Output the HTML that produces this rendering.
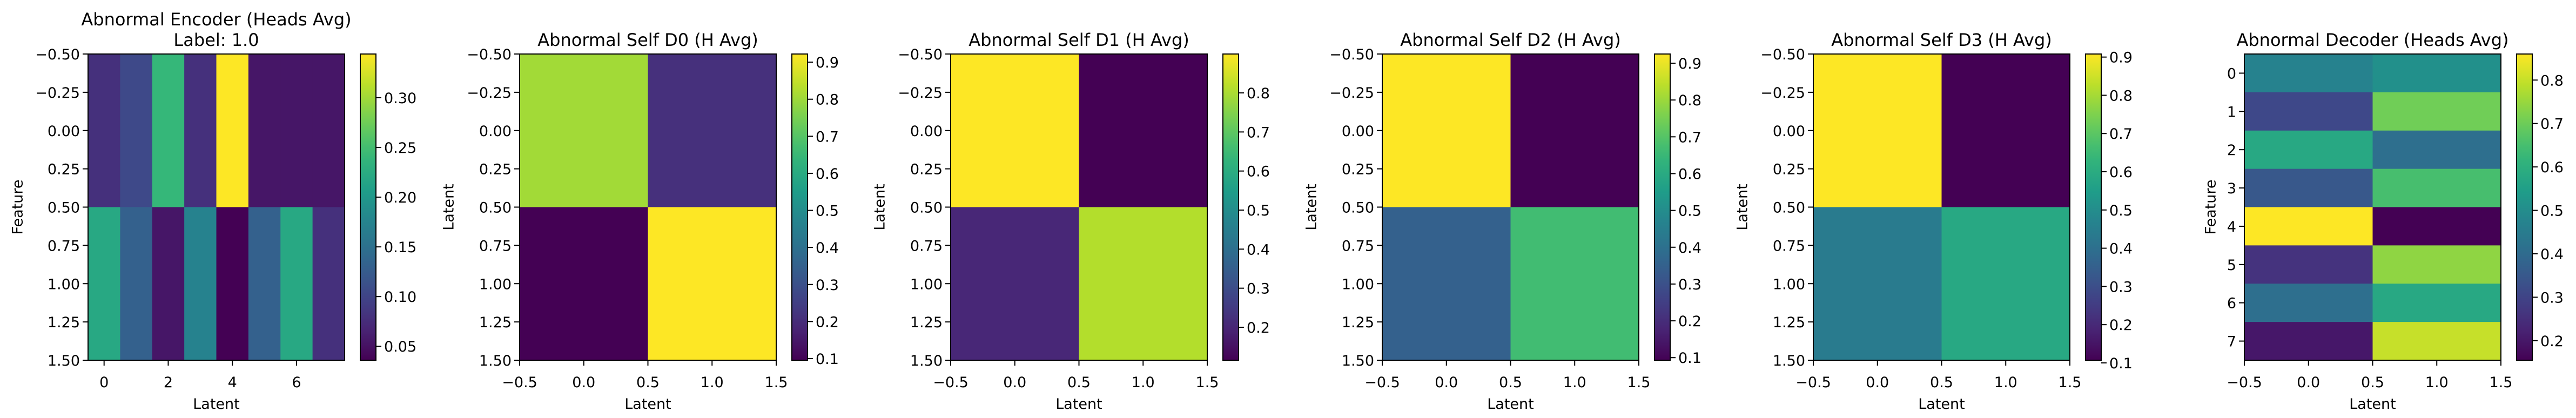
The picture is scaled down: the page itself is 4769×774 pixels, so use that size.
<!DOCTYPE html>
<html><head><meta charset="utf-8">
<style>
html,body{margin:0;padding:0;background:#fff;}
svg{display:block;font-family:"DejaVu Sans","Liberation Sans",sans-serif;}
</style></head>
<body>
<svg id="fig" width="4769" height="774" viewBox="0 0 4769 774" xmlns="http://www.w3.org/2000/svg"></svg>
<script>
// ---- data ----
const encValues = [[0.079,0.104,0.241,0.079,0.344,0.054,0.054,0.054],[0.221,0.131,0.054,0.173,0.036,0.131,0.221,0.079]];
const d0Values = [[0.806,0.21],[0.0956,0.922]];
const d1Values = [[0.8996,0.1156],[0.2,0.81]];
const d2Values = [[0.925,0.093],[0.35,0.667]];
const d3Values = [[0.908,0.107],[0.44,0.587]];
const decValues = [[0.468,0.508],[0.31,0.705],[0.578,0.41],[0.35,0.65],[0.86,0.155],[0.26,0.74],[0.41,0.578],[0.20,0.80]];
const titles = [["Abnormal Encoder (Heads Avg)","Label: 1.0"],["Abnormal Self D0 (H Avg)"],["Abnormal Self D1 (H Avg)"],["Abnormal Self D2 (H Avg)"],["Abnormal Self D3 (H Avg)"],["Abnormal Decoder (Heads Avg)"]];
const yLabels = ["Feature","Latent","Latent","Latent","Latent","Feature"];
const ticks2 = [-0.5,-0.25,0,0.25,0.5,0.75,1,1.25,1.5];
const xTicksEnc = [0,2,4,6];
const xTicksSelf = [-0.5,0,0.5,1,1.5];
const yTicksDec = [0,1,2,3,4,5,6,7];
const cbRanges = [[0.036,0.344],[0.0956,0.922],[0.1156,0.8996],[0.093,0.925],[0.107,0.908],[0.155,0.86]];
const cbTicks = [[0.05,0.10,0.15,0.20,0.25,0.30],[0.1,0.2,0.3,0.4,0.5,0.6,0.7,0.8,0.9],[0.2,0.3,0.4,0.5,0.6,0.7,0.8],[0.1,0.2,0.3,0.4,0.5,0.6,0.7,0.8,0.9],[0.1,0.2,0.3,0.4,0.5,0.6,0.7,0.8,0.9],[0.2,0.3,0.4,0.5,0.6,0.7,0.8]];
const cbDecimals = [2,1,1,1,1,1];

const viridis = ["#440154","#482878","#3e4989","#31688e","#26828e","#1f9e89","#35b779","#6ece58","#b5de2b","#fde725"];
function hex(c){return [parseInt(c.slice(1,3),16),parseInt(c.slice(3,5),16),parseInt(c.slice(5,7),16)];}
function cmap(t){t=Math.max(0,Math.min(1,t));const p=t*(viridis.length-1);const i=Math.min(Math.floor(p),viridis.length-2);const f=p-i;const a=hex(viridis[i]),b=hex(viridis[i+1]);return "rgb("+a.map((v,k)=>Math.round(v+(b[k]-v)*f)).join(",")+")";}
function fmt(v,d){const s=Math.abs(v).toFixed(d);return (v<-1e-9?"\u2212":"")+s;}

const NS="http://www.w3.org/2000/svg";
const svg=document.getElementById("fig");
function mk(tag,attrs,parent){const e=document.createElementNS(NS,tag);for(const k in attrs)e.setAttribute(k,attrs[k]);(parent||svg).appendChild(e);return e;}

const lefts=[163,962,1760,2559,3357,4155];
const AW=475, TOP=100, BOT=667, CBOFF=504, CBW=29;
const panels=[
 {vals:encValues,xt:xTicksEnc,xd:0,xdom:[-0.5,7.5],yt:ticks2,yd:2,ydom:[-0.5,1.5],ylx:-130},
 {vals:d0Values,xt:xTicksSelf,xd:1,xdom:[-0.5,1.5],yt:ticks2,yd:2,ydom:[-0.5,1.5],ylx:-131},
 {vals:d1Values,xt:xTicksSelf,xd:1,xdom:[-0.5,1.5],yt:ticks2,yd:2,ydom:[-0.5,1.5],ylx:-131},
 {vals:d2Values,xt:xTicksSelf,xd:1,xdom:[-0.5,1.5],yt:ticks2,yd:2,ydom:[-0.5,1.5],ylx:-131},
 {vals:d3Values,xt:xTicksSelf,xd:1,xdom:[-0.5,1.5],yt:ticks2,yd:2,ydom:[-0.5,1.5],ylx:-131},
 {vals:decValues,xt:xTicksSelf,xd:1,xdom:[-0.5,1.5],yt:yTicksDec,yd:0,ydom:[-0.5,7.5],ylx:-62}
];

panels.forEach((p,pi)=>{
  const L=lefts[pi];
  const g=mk("g",{});
  
  
  const nr=p.vals.length, nc=p.vals[0].length;
  const [vmin,vmax]=cbRanges[pi];
  // data-space axes: cells centered at integer indices, image extent from -0.5 to n-0.5
  const cx=v=>L+(v-(-0.5))/nc*AW;
  const cy=v=>TOP+(v-(-0.5))/nr*(BOT-TOP);
  const sx=v=>L+(v-p.xdom[0])/(p.xdom[1]-p.xdom[0])*AW;
  const sy=v=>TOP+(v-p.ydom[0])/(p.ydom[1]-p.ydom[0])*(BOT-TOP);
  for(let r=0;r<nr;r++)for(let c=0;c<nc;c++){
    const x0=cx(c-0.5),x1=cx(c+0.5),y0=cy(r-0.5),y1=cy(r+0.5);
    const cell=mk("rect",{x:x0,y:y0,width:x1-x0+0.5,height:y1-y0+0.5,fill:cmap((p.vals[r][c]-vmin)/(vmax-vmin))},g);
    
    
  }
  const fr=mk("rect",{x:L,y:TOP,width:AW,height:BOT-TOP,fill:"none",stroke:"#000","stroke-width":2},g);
  
  
  // x ticks
  p.xt.forEach(t=>{
    const x=sx(t);
    mk("line",{x1:x,y1:BOT,x2:x,y2:BOT+10,stroke:"#000","stroke-width":2},g);
    const tx=mk("text",{x:x,y:717,"font-size":27,"text-anchor":"middle",fill:"#000"},g);
    tx.textContent=fmt(t,p.xd);
    
    
  });
  // y ticks
  p.yt.forEach(t=>{
    const y=sy(t);
    mk("line",{x1:L-10,y1:y,x2:L,y2:y,stroke:"#000","stroke-width":2},g);
    const tx=mk("text",{x:L-15,y:y+10,"font-size":27,"text-anchor":"end",fill:"#000"},g);
    tx.textContent=fmt(t,p.yd);
    
    
  });
  const xl=mk("text",{x:L+AW/2,y:757,"font-size":27,"text-anchor":"middle",fill:"#000"},g);
  xl.textContent="Latent";
  
  
  const yx=L+p.ylx, yy=(TOP+BOT)/2;
  const yl=mk("text",{x:yx,y:yy,"font-size":27,"text-anchor":"middle","dominant-baseline":"central",transform:"rotate(-90 "+yx+" "+yy+")",fill:"#000"},g);
  yl.textContent=yLabels[pi];
  
  
  // title
  const tl=titles[pi];
  tl.forEach((line,li)=>{
    const y = tl.length===2 ? (li===0?47:85) : 85;
    const tt=mk("text",{x:L+AW/2,y:y,"font-size":32,"text-anchor":"middle",fill:"#000"},g);
    tt.textContent=line;
    
    
  });
  // colorbar
  const gid="vg"+pi;
  const defs=mk("defs",{},g);
  const lg=mk("linearGradient",{id:gid,x1:0,y1:1,x2:0,y2:0},defs);
  for(let i=0;i<=20;i++){mk("stop",{offset:(i/20),"stop-color":cmap(i/20)},lg);}
  const CX=L+CBOFF;
  const cb=mk("rect",{x:CX,y:TOP,width:CBW,height:BOT-TOP,fill:"url(#"+gid+")",stroke:"#000","stroke-width":2},g);
  
  
  const cby=v=>BOT-(v-vmin)/(vmax-vmin)*(BOT-TOP);
  cbTicks[pi].forEach(t=>{
    const y=cby(t);
    mk("line",{x1:CX+CBW,y1:y,x2:CX+CBW+10,y2:y,stroke:"#000","stroke-width":2},g);
    const tx=mk("text",{x:CX+CBW+15,y:y+10,"font-size":27,fill:"#000"},g);
    tx.textContent=t.toFixed(cbDecimals[pi]);
    
    
  });
});
</script>
</body></html>
